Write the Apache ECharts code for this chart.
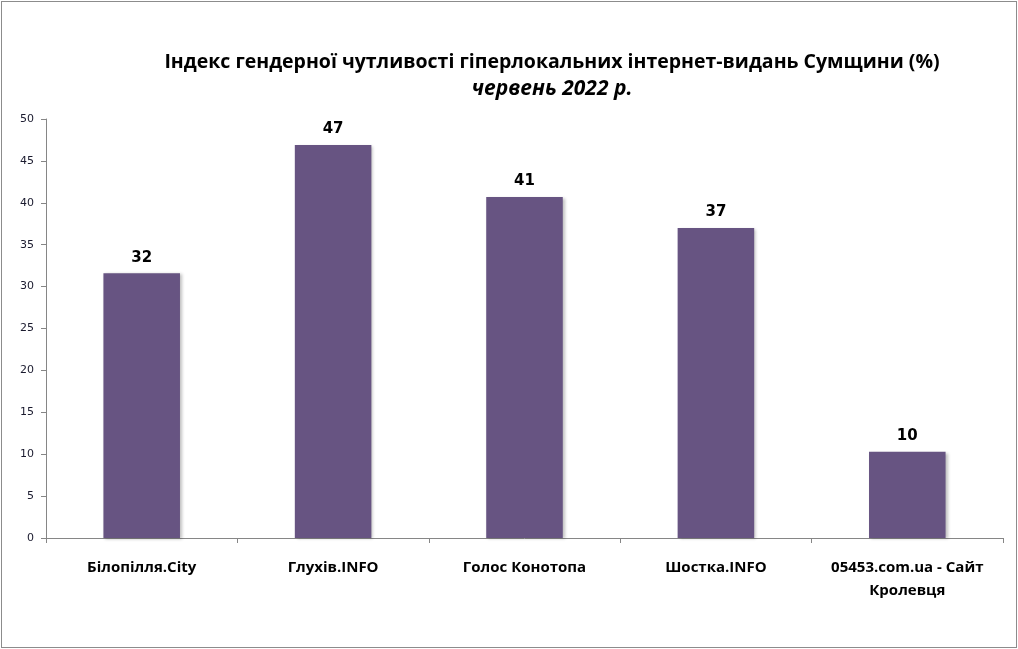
<!DOCTYPE html>
<html>
<head>
<meta charset="utf-8">
<script src="https://cdn.jsdelivr.net/npm/echarts@6/dist/echarts.min.js"></script>
<style>
  html, body { margin: 0; padding: 0; background: #fff; }
  #chart {
    width: 1014px;
    height: 645px;
    margin: 1px 0 0 1px;
    border: 1px solid #8c8c8c;
  }
</style>
</head>
<body>
<div id="chart"></div>
<script>
// categories and values (bar heights, labels show rounded values)
var categories = ['Білопілля.City', 'Глухів.INFO', 'Голос Конотопа', 'Шостка.INFO', '05453.com.ua - Сайт\nКролевця']
var values = [31.6, 46.9, 40.7, 37.0, 10.3]
var yTicks = [0, 5, 10, 15, 20, 25, 30, 35, 40, 45, 50]

var titleFont = '"Open Sans", sans-serif'

var myChart = echarts.init(document.getElementById('chart'))
myChart.setOption({
  animation: false,
  title: {
    text: 'Індекс гендерної чутливості гіперлокальних інтернет-видань Сумщини (%)',
    subtext: 'червень 2022 р.',
    left: 545,
    textAlign: 'center',
    top: 45,
    itemGap: 7,
    textStyle: {
      fontFamily: titleFont,
      fontWeight: 'bold',
      fontSize: 19.5,
      color: '#000'
    },
    subtextStyle: {
      fontFamily: titleFont,
      fontWeight: 'bold',
      fontStyle: 'italic',
      fontSize: 21,
      color: '#000'
    }
  },
  grid: {
    left: 44,
    right: 13,
    top: 117,
    bottom: 109,
    containLabel: false
  },
  xAxis: {
    type: 'category',
    data: categories,
    axisLine: { lineStyle: { color: '#868686', width: 1 } },
    axisTick: { show: true, length: 5, lineStyle: { color: '#868686' }, alignWithLabel: false },
    axisLabel: {
      interval: 0,
      margin: 18,
      fontFamily: titleFont,
      fontWeight: 'bold',
      fontSize: 15,
      lineHeight: 23,
      color: '#000'
    }
  },
  yAxis: {
    type: 'value',
    min: yTicks[0],
    max: yTicks[yTicks.length - 1],
    interval: 5,
    splitLine: { show: false },
    axisLine: { show: true, lineStyle: { color: '#868686', width: 1 } },
    axisTick: { show: true, length: 5, lineStyle: { color: '#868686' } },
    axisLabel: {
      margin: 12,
      fontFamily: 'DejaVu Sans, sans-serif',
      fontSize: 11,
      color: '#1a1a2e'
    }
  },
  series: [
    {
      type: 'bar',
      data: values,
      barWidth: '40%',
      itemStyle: {
        color: '#675482',
        shadowColor: 'rgba(0,0,0,0.25)',
        shadowBlur: 3,
        shadowOffsetX: 2,
        shadowOffsetY: 1
      },
      label: {
        show: true,
        position: 'top',
        distance: 8,
        formatter: function (p) {
          return Math.round(p.value)
        },
        fontFamily: 'DejaVu Sans, sans-serif',
        fontWeight: 'bold',
        fontSize: 15,
        color: '#000'
      }
    }
  ]
})
</script>
</body>
</html>
